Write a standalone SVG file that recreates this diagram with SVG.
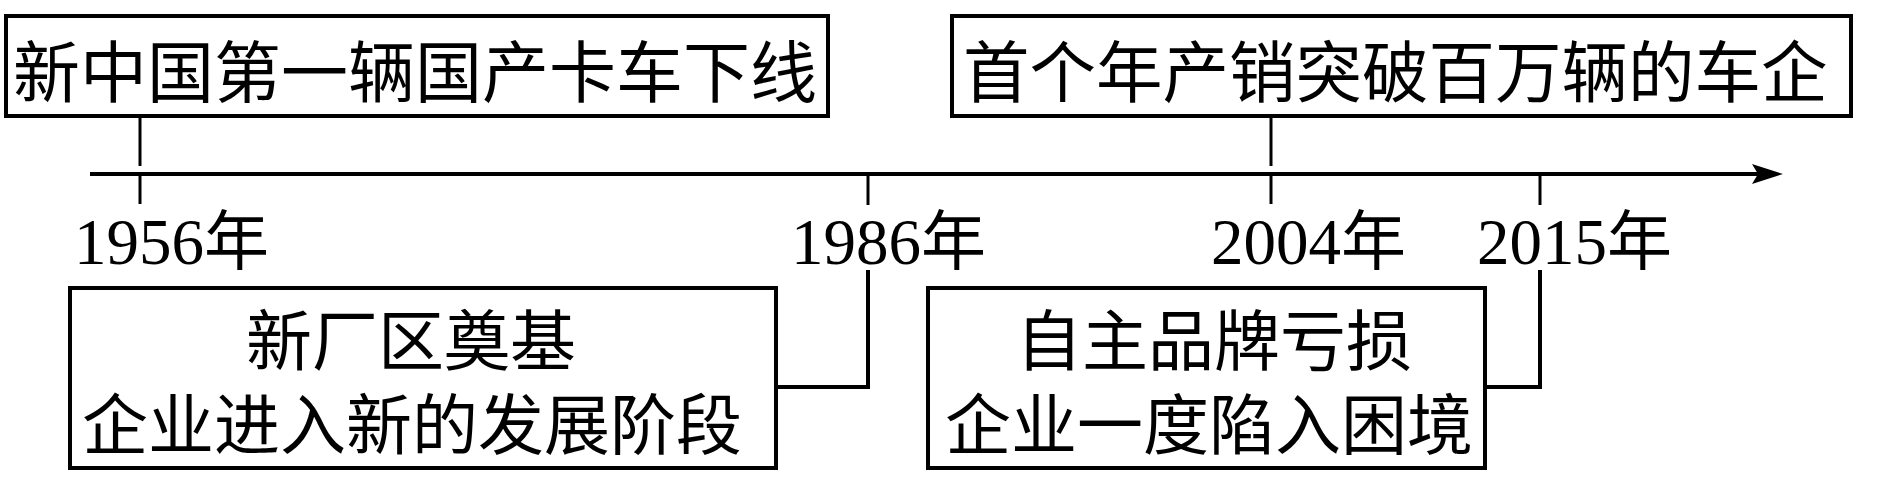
<svg xmlns="http://www.w3.org/2000/svg" width="1890" height="494" viewBox="0 0 1890 494">
<style>
.box{fill:#fff;stroke:#000;stroke-width:4}
.ln{stroke:#000;stroke-width:3;fill:none}
.ax{stroke:#000;stroke-width:4;fill:none}
.cn{font-family:"Noto Sans CJK SC","Noto Sans CJK JP",sans-serif;fill:#000}
.yr{font-family:"Liberation Serif","Noto Sans CJK SC",serif;font-size:65px;fill:#000}
</style>
<rect width="1890" height="494" fill="#fff"/>
<g id="connectors">
<line class="ax" x1="90" y1="174" x2="1758" y2="174"/>
<polygon points="1783,174 1752,164 1758,174 1752,184" fill="#000"/>
<line class="ln" x1="140" y1="118" x2="140" y2="166"/>
<line class="ln" x1="140" y1="174" x2="140" y2="204"/>
<line class="ln" x1="1271" y1="118" x2="1271" y2="166"/>
<line class="ln" x1="1271" y1="174" x2="1271" y2="204"/>
<line class="ln" x1="868" y1="174" x2="868" y2="205"/>
<line class="ln" x1="1540" y1="174" x2="1540" y2="205"/>
<polyline class="ax" points="868,270 868,387 778,387"/>
<polyline class="ax" points="1540,270 1540,387 1487,387"/>
</g>
<g id="node-1956-event">
<rect class="box" x="6" y="16" width="822" height="100"/>
<text class="cn" x="13" y="97" font-size="67">新中国第一辆国产卡车下线</text>
</g>
<g id="node-2004-event">
<rect class="box" x="952" y="16" width="899" height="100"/>
<text class="cn" x="963" y="97" font-size="66.5">首个年产销突破百万辆的车企</text>
</g>
<g id="node-1986-event">
<rect class="box" x="70" y="288" width="706" height="180"/>
<text class="cn" x="411" y="365" font-size="66" text-anchor="middle">新厂区奠基</text>
<text class="cn" x="412" y="449" font-size="66" text-anchor="middle">企业进入新的发展阶段</text>
</g>
<g id="node-2015-event">
<rect class="box" x="928" y="288" width="557" height="180"/>
<text class="cn" x="1214" y="365" font-size="66" text-anchor="middle">自主品牌亏损</text>
<text class="cn" x="1209" y="449" font-size="66" text-anchor="middle">企业一度陷入困境</text>
</g>
<g id="year-labels">
<text class="yr" x="74" y="264">1956年</text>
<text class="yr" x="791" y="264">1986年</text>
<text class="yr" x="1211" y="264">2004年</text>
<text class="yr" x="1477" y="264">2015年</text>
</g>
</svg>
